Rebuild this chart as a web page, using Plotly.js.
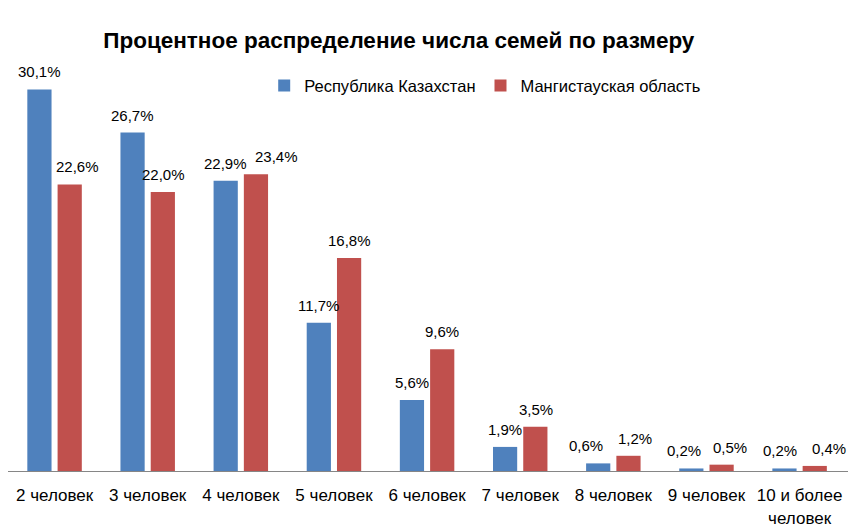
<!DOCTYPE html>
<html>
<head>
<meta charset="utf-8">
<script src="https://cdn.plot.ly/plotly-3.0.1.min.js"></script>
<style>
  body { margin: 0; background: #fff; }
  #chart { width: 854px; height: 532px; }
</style>
</head>
<body>
<div id="chart"></div>
<script>
const categories = ["2 человек", "3 человек", "4 человек", "5 человек", "6 человек",
  "7 человек", "8 человек", "9 человек", "10 и более<br>человек"];
const kazakhstan = [30.1, 26.7, 22.9, 11.7, 5.6, 1.9, 0.6, 0.2, 0.2];
const mangystau = [22.6, 22.0, 23.4, 16.8, 9.6, 3.5, 1.2, 0.5, 0.4];

// extra sideways nudge (px) for labels that would collide, as in the original
const kazakhstanNudge = [0, 0, 0, 0, 0, 0, -12, -7, -4];
const mangystauNudge = [8, 0, 20, 0, 0, 0, 6, 8, 14];

function pctLabel(v) {
  return v.toFixed(1).replace(".", ",") + "%";
}

const fontFamily = "Liberation Sans, Arial, sans-serif";

const traces = [
  {
    type: "bar",
    name: "Республика Казахстан",
    x: categories,
    y: kazakhstan,
    marker: { color: "#4F81BD" },
    hoverinfo: "x+y",
  },
  {
    type: "bar",
    name: "Мангистауская область",
    x: categories,
    y: mangystau,
    marker: { color: "#C0504D" },
    hoverinfo: "x+y",
  },
];

// value labels sit a bit above each bar, like Excel's data labels
function labelsFor(values, shift, nudge) {
  return values.map((v, i) => ({
    x: categories[i],
    y: v,
    xref: "x",
    yref: "y",
    text: pctLabel(v),
    showarrow: false,
    xshift: shift + nudge[i],
    yshift: 7,
    yanchor: "bottom",
    font: { size: 15, color: "#000" },
  }));
}

const layout = {
  width: 854,
  height: 532,
  margin: { l: 8, r: 6, t: 78, b: 61 },
  paper_bgcolor: "#fff",
  plot_bgcolor: "#fff",
  font: { family: fontFamily, size: 16, color: "#000" },
  title: {
    text: "<b>Процентное распределение числа семей по размеру</b>",
    font: { size: 22.5, family: fontFamily },
    x: 0.467,
    xanchor: "center",
    y: 0.925,
    yanchor: "middle",
  },
  barmode: "group",
  bargap: 0.35,
  bargroupgap: 0.2,
  showlegend: true,
  legend: {
    orientation: "h",
    x: 0.305,
    xanchor: "left",
    y: 0.98,
    yanchor: "middle",
    font: { size: 16.5 },
    itemwidth: 30,
    traceorder: "normal",
  },
  annotations: labelsFor(kazakhstan, -15.4, kazakhstanNudge)
    .concat(labelsFor(mangystau, 15.4, mangystauNudge)),
  xaxis: {
    type: "category",
    showline: true,
    linecolor: "#868686",
    linewidth: 1,
    ticks: "",
    ticklabelstandoff: 9,
    tickfont: { size: 17 },
    showgrid: false,
  },
  yaxis: {
    range: [0, 31],
    visible: false,
    showgrid: false,
    zeroline: false,
  },
};

Plotly.newPlot("chart", traces, layout, { displayModeBar: false });
</script>
</body>
</html>
